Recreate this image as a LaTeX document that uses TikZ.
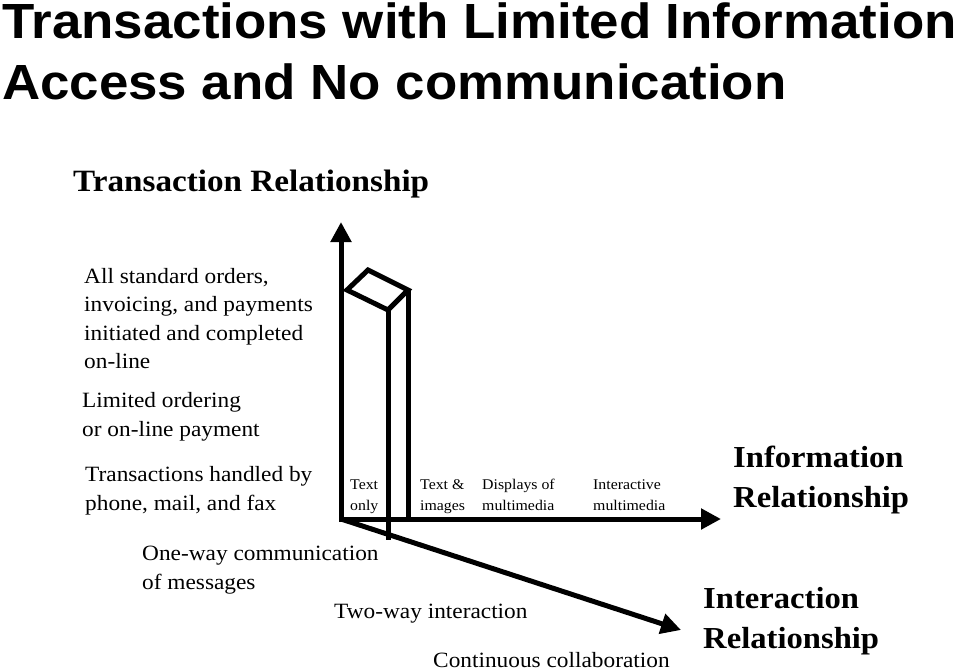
\documentclass[tikz,border=0pt]{standalone}
\usepackage{fontspec}
\setmainfont{Liberation Serif}[FakeStretch=1.07]
\newfontfamily\headfont{Liberation Sans}[FakeStretch=1.07]
\usetikzlibrary{arrows.meta}

\tikzset{
  axis/.style={draw, line width=5pt, line join=miter},
  bar/.style={draw, line width=5pt, line join=miter},
  level/.style={anchor=base west, align=left, font=\fontsize{21.8}{28.5}\selectfont},
  media/.style={anchor=base west, align=left, font=\fontsize{14.8}{21}\selectfont},
  axisname/.style={anchor=base west, align=left, font=\bfseries\fontsize{30.5}{40}\selectfont},
}

\begin{document}
\begin{tikzpicture}[x=1pt, y=-1pt, inner sep=0pt, >={Triangle[length=20pt, width=20pt]}]
  \useasboundingbox (0,0) rectangle (960,671);
  % title (base = last line)
  \node[anchor=base west, align=left, font=\headfont\bfseries\fontsize{49.4}{61}\selectfont]
    (title) at (2,100) {Transactions with Limited Information\\Access and No communication};
  \node[anchor=base west, font=\bfseries\fontsize{31}{38}\selectfont]
    (trans) at (73,191) {Transaction Relationship};
  % axes
  \coordinate (O) at (341,519);
  \coordinate (vtip) at (341,222);
  \coordinate (htip) at (721,519);
  \coordinate (dtip) at (681,630);
  \draw[axis, <->] (vtip) -- (O) -- (htip);
  \draw[axis, ->] (O) -- (dtip);
  % the bar
  \coordinate (barL) at (347,290);
  \coordinate (barT) at (368,270);
  \coordinate (barR) at (408,290);
  \coordinate (barF) at (388,310);
  \draw[bar] (barL) -- (barT) -- (barR) -- (barF) -- cycle;
  \draw[bar] (barR) -- (barR |- O);
  \draw[bar] (barF) -- ++(0,230);
  % transaction levels
  \node[level] (lvlA) at (84,368.5) {All standard orders,\\invoicing, and payments\\initiated and completed\\on-line};
  \node[level] (lvlB) at (82,436) {Limited ordering\\or on-line payment};
  \node[level] (lvlC) at (85,510) {Transactions handled by\\phone, mail, and fax};
  % information levels
  \foreach \x/\t [count=\i] in {350/{Text\\only}, 420/{Text \&\\images}, 482/{Displays of\\multimedia}, 593/{Interactive\\multimedia}}{
    \node[media] (info\i) at (\x,510) {\t};
  }
  \node[axisname] (infoname) at (733,507) {Information\\Relationship};
  % interaction levels
  \node[level] (actA) at (142,589) {One-way communication\\of messages};
  \node[level] (actB) at (334,618) {Two-way interaction};
  \node[level] (actC) at (433,667) {Continuous collaboration};
  \node[axisname] (actname) at (703,648) {Interaction\\Relationship};
\end{tikzpicture}
\end{document}
